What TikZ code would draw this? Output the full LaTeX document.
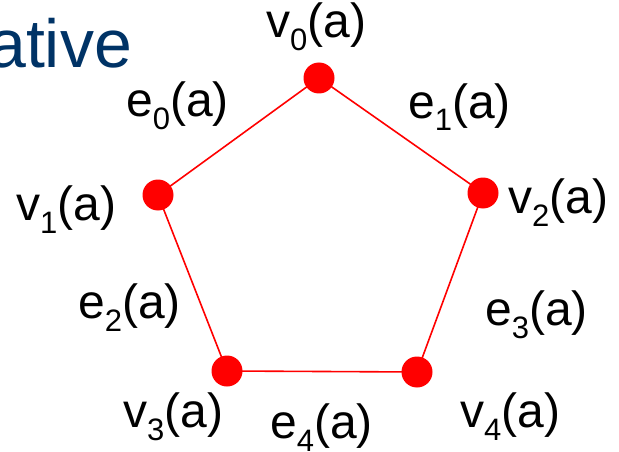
\documentclass[tikz,border=0pt]{standalone}
\usepackage{fontspec}
\setmainfont{Liberation Sans}
\definecolor{titleblue}{RGB}{0,51,102}
\definecolor{vred}{RGB}{255,0,0}
\newcommand{\lbl}[2]{#1\raisebox{-13pt}{\fontsize{31}{31}\selectfont #2}(a)}
\begin{document}
\begin{tikzpicture}[x=1pt,y=-1pt,
  vdot/.style={circle,fill=vred,draw=none,minimum size=31pt,inner sep=0pt},
  edge/.style={draw=vred,line width=1.6pt},
  lab/.style={anchor=base west,inner sep=0pt,font=\fontsize{48}{56}\selectfont}]
\useasboundingbox (0,0) rectangle (619,452);
\clip (0,0) rectangle (619,452);
\node[anchor=base west,inner sep=0pt,text=titleblue,font=\fontsize{68}{80}\selectfont] (title) at (-12,67) {ative};
\coordinate (c0) at (319,78);
\coordinate (c1) at (158,195);
\coordinate (c2) at (483,193);
\coordinate (c3) at (227,371);
\coordinate (c4) at (417,372);
\draw[edge] (c0) -- (c2) -- (c4) -- (c3) -- (c1) -- (c0);
\node[vdot] (v0) at (c0) {};
\node[vdot] (v1) at (c1) {};
\node[vdot] (v2) at (c2) {};
\node[vdot] (v3) at (c3) {};
\node[vdot] (v4) at (c4) {};
\node[lab] (lv0) at (266,38) {\lbl{v}{0}};
\node[lab] (le0) at (126,117) {\lbl{e}{0}};
\node[lab] (le1) at (408,118) {\lbl{e}{1}};
\node[lab] (lv1) at (16,220) {\lbl{v}{1}};
\node[lab] (lv2) at (508,213) {\lbl{v}{2}};
\node[lab] (le2) at (78,318) {\lbl{e}{2}};
\node[lab] (le3) at (485,325) {\lbl{e}{3}};
\node[lab] (lv3) at (123,427) {\lbl{v}{3}};
\node[lab] (le4) at (270,438) {\lbl{e}{4}};
\node[lab] (lv4) at (460,427) {\lbl{v}{4}};
\end{tikzpicture}
\end{document}
